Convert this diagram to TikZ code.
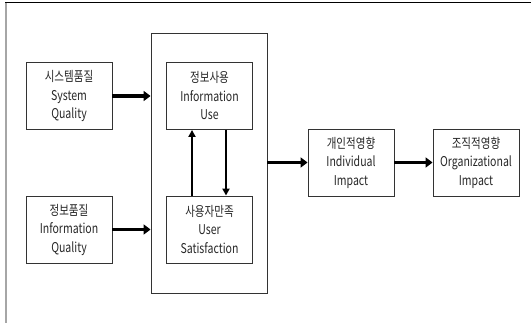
\documentclass[tikz,border=0pt]{standalone}
\usepackage{fontspec}
\setmainfont{Noto Sans CJK KR}[FakeStretch=0.78]
\usetikzlibrary{arrows.meta}
\begin{document}
\begin{tikzpicture}[x=1pt,y=-1pt,
  box/.style={draw=black!80,line width=0.9pt,minimum width=86pt,minimum height=67pt,inner sep=0pt,align=center,font=\fontsize{13.5}{18.5}\selectfont,text=black!85},
  thick arrow/.style={line width=3.4pt,-{Triangle[length=7pt,width=10pt]}},
  thin arrow/.style={line width=2pt,-{Triangle[length=7pt,width=7pt]}}]
\useasboundingbox (0,0) rectangle (531,323);
\draw[line width=1.2pt] (5,2.5) -- (531,2.5);
\draw[black!35,line width=2pt] (6,3) -- (6,323);
\node[draw=black!80,line width=0.9pt,minimum width=116pt,minimum height=260pt,inner sep=0pt] (big) at (209,163) {};
\node[box] (sq) at (69,96) {시스템품질\\System\\Quality};
\node[box] (iq) at (69,229.5) {정보품질\\Information\\Quality};
\node[box] (iu) at (209.5,96) {정보사용\\Information\\Use};
\node[box] (us) at (209.5,229.5) {사용자만족\\User\\Satisfaction};
\node[box] (ii) at (351,162.5) {개인적영향\\Individual\\Impact};
\node[box] (oi) at (476,162.5) {조직적영향\\Organizational\\Impact};
\draw[thick arrow] (sq.east) -- (sq.east -| big.west);
\draw[thick arrow] (iq.east) -- (iq.east -| big.west);
\draw[thin arrow] (us.north -| 192,0) -- (iu.south -| 192,0);
\draw[thin arrow] (iu.south -| 226,0) -- (us.north -| 226,0);
\draw[thick arrow] (ii.west -| big.east) -- (ii.west);
\draw[thick arrow] (ii.east) -- (oi.west);
\end{tikzpicture}
\end{document}
